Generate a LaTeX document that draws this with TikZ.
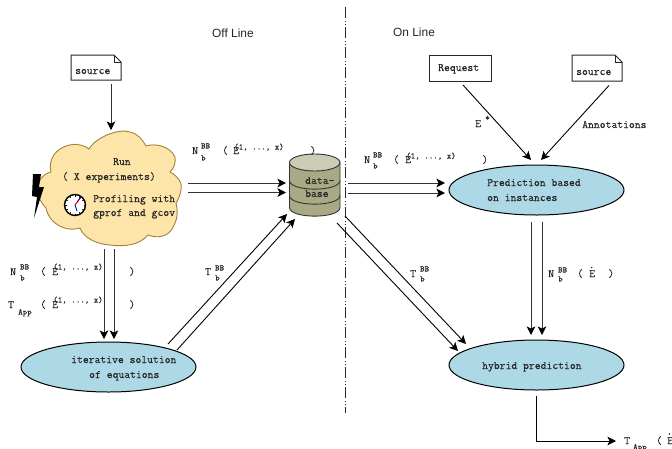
\documentclass[tikz,border=0pt]{standalone}
\usepackage{fontspec}
\setmainfont{Liberation Sans}
\setmonofont[FakeBold=0.08]{Latin Modern Mono}
\usetikzlibrary{arrows.meta,shapes.geometric}
\definecolor{ink}{HTML}{262626}
\definecolor{cloudfill}{HTML}{FDE5A9}
\definecolor{cloudline}{HTML}{A5803A}
\definecolor{ovalfill}{HTML}{ADD8E6}
\definecolor{dbbody}{HTML}{A9A985}
\definecolor{dbtop}{HTML}{CCCCB6}
\tikzset{
  lab/.style={anchor=base west,inner sep=0pt,yshift=-3pt,text=ink,font=\fontsize{11.35}{12}\selectfont\ttfamily},
  sml/.style={anchor=base west,inner sep=0pt,yshift=-2.5pt,text=ink,font=\fontsize{8.6}{9}\selectfont\ttfamily},
  ttl/.style={anchor=base west,inner sep=0pt,yshift=-4pt,text=ink,font=\fontsize{11.9}{13}\selectfont},
  oval/.style={ellipse,draw=black,line width=1pt,fill=ovalfill,minimum width=175pt,minimum height=50pt,inner sep=0pt},
  holder/.style={inner sep=0pt,minimum width=#1},
  rbox/.style={draw=ink,line width=1pt,fill=white,inner sep=0pt,minimum width=62pt,minimum height=26pt},
  arr/.style={line width=1pt,draw=black!80,-{Stealth[length=8.5pt,width=8.5pt,inset=2pt,color=black]}},
  plain/.style={line width=.9pt,draw=black,-{Stealth[length=8.5pt,width=8.5pt,inset=2pt]}}
}
\newcommand\lb[4]{\node[lab] (#1) at (#2,#3) {#4};}
\newcommand\sm[4]{\node[sml] (#1) at (#2,#3) {#4};}
\newcommand\docbox[5]{% name, l, t, r, b
  \node[holder=0pt] (#1) at ({(#2+#4)/2},{(#3+#5)/2}) {};
  \draw[draw=ink,line width=1pt,fill=white] (#2,#3) -- (#4-7,#3) -- (#4,#3+7) -- (#4,#5) -- (#2,#5) -- cycle;
  \draw[draw=ink,line width=.8pt] (#4-7,#3) -- (#4-7,#3+7) -- (#4,#3+7);
}
\begin{document}
\begin{tikzpicture}[x=1pt,y=-1pt]
\useasboundingbox (0,0) rectangle (672,448);
% divider
\coordinate (divt) at (345,7);
\coordinate (divb) at (345,413);
\draw[draw=ink,line width=.9pt,dash pattern=on 11pt off 3pt on 1pt off 2pt on 1pt off 2pt] (divt) -- (divb);
% titles
\node[ttl] (offl) at (212,33) {Off Line};
\node[ttl] (onl) at (393,32) {On Line};
% cloud
\draw[draw=cloudline,line width=.9pt,fill=cloudfill]
  (89,149) .. controls (95,138) and (118,128) .. (130,132)
  .. controls (138,134) and (142,139) .. (146,146)
  .. controls (155,143) and (170,146) .. (175,157)
  .. controls (176,163) and (174,168) .. (170,172)
  .. controls (178,176) and (183,184) .. (181,190)
  .. controls (180,196) and (178,200) .. (176,203)
  .. controls (178,212) and (178,219) .. (172,229)
  .. controls (166,238) and (156,238) .. (148,235)
  .. controls (140,245) and (124,247) .. (110,245)
  .. controls (96,244) and (84,238) .. (80,228)
  .. controls (68,232) and (50,226) .. (46,208)
  .. controls (38,200) and (35,188) .. (40,180)
  .. controls (43,175) and (47,173) .. (51,172)
  .. controls (48,160) and (55,148) .. (70,145)
  .. controls (78,143) and (85,146) .. (89,149) -- cycle;
\node[holder=0pt] (cloud) at (109,188) {};
% lightning bolt
\fill[black] (33,174) -- (41,174) -- (39,187) -- (44,187) -- (34,218) -- (37,197) -- (32,196) -- cycle;
% clock
\node[circle,draw=black,line width=1.4pt,fill=white,minimum size=21pt,inner sep=0pt] (clock) at (75,205) {};
\foreach \a in {0,30,...,330}{\draw[black,line width=.8pt] (clock.center) ++(\a:8.5) -- ++(\a:2);}
\draw[red,line width=1pt] (clock.center) -- ++(6,-8);
\draw[blue,line width=.9pt] (clock.center) -- ++(2,6);
\draw[blue,line width=.7pt] (clock.center) ++(2,-3) -- ++(4,-5);
% cloud text
\lb{trun}{113}{162}{Run}
\lb{tx}{62}{177}{( X experiments)}
\lb{tp}{93}{199}{Profiling with}
\lb{tg}{93}{213}{gprof and gcov}
% source + request
\docbox{srcl}{71}{55}{121}{80}
\lb{tsrcl}{75}{71}{source}
\node[rbox] (req) at (460,68) {};
\lb{treq}{438}{68}{Request}
\docbox{srcr}{572}{55}{622}{81}
\lb{tsrcr}{576}{72}{source}
% database
\filldraw[draw=black!80,line width=.9pt,fill=dbbody] (289.5,162.5) -- (289.5,207.5) .. controls (289.5,219) and (340,219) .. (340,207.5) -- (340,162.5) -- cycle;
\draw[draw=black!80,line width=.9pt] (289.5,180.5) .. controls (289.5,192) and (340,192) .. (340,180.5);
\draw[draw=black!80,line width=.9pt] (289.5,195.5) .. controls (289.5,207) and (340,207) .. (340,195.5);
\node[ellipse,draw=black!80,line width=.9pt,fill=dbtop,minimum width=50.5pt,minimum height=17pt,inner sep=0pt] (dbt) at (314.75,162.5) {};
\node[holder=0pt] (db) at (315,185) {};
\lb{td}{305}{181}{data-}
\lb{tb}{305}{194}{base}
% ovals
\node[oval] (pred) at (536.5,190) {};
\lb{tp1}{487}{183}{Prediction based}
\lb{tp2}{487}{198}{on instances}
\node[oval] (hyb) at (536.5,365) {};
\lb{th}{482}{366}{hybrid prediction}
\node[oval] (iter) at (108.5,367) {};
\lb{ti1}{71}{360}{iterative solution}
\lb{ti2}{89}{375}{of equations}
% connectors
\draw[arr] ([shift={(15,16.5)}]srcl.center) -- ([shift={(2,-58)}]cloud.center);
\draw[arr] ([shift={(79,-5)}]cloud.center) -- ([shift={(-29,-2)}]db.center);
\draw[arr] ([shift={(79,4.5)}]cloud.center) -- ([shift={(-29,7.5)}]db.center);
\draw[arr] ([shift={(33,-2)}]db.center) -- ([shift={(-91.5,-7)}]pred.center);
\draw[arr] ([shift={(33,8)}]db.center) -- ([shift={(-91.5,3)}]pred.center);
\draw[arr] ([shift={(-5,61)}]cloud.center) -- ([shift={(-4.5,-28)}]iter.center);
\draw[arr] ([shift={(5,61)}]cloud.center) -- ([shift={(5.5,-28)}]iter.center);
\draw[plain] ([shift={(59.5,-23)}]iter.center) -- ([shift={(-28,29)}]db.center);
\draw[plain] ([shift={(68.5,-17)}]iter.center) -- ([shift={(-20,34)}]db.center);
\draw[plain] ([shift={(30,31)}]db.center) -- ([shift={(-70.5,-21)}]hyb.center);
\draw[plain] ([shift={(22,38)}]db.center) -- ([shift={(-78.5,-14)}]hyb.center);
\draw[arr] ([shift={(-5.5,32)}]pred.center) -- ([shift={(-5.5,-30)}]hyb.center);
\draw[arr] ([shift={(5.5,32)}]pred.center) -- ([shift={(5.5,-30)}]hyb.center);
\draw[plain] ([shift={(3,17)}]req.center) -- ([shift={(-5.5,-30)}]pred.center);
\draw[plain] ([shift={(12,17.5)}]srcr.center) -- ([shift={(4.5,-30)}]pred.center);
\coordinate (outk) at (536,441);
\coordinate (outt) at (616,441);
\draw[plain] ([shift={(-0.5,31)}]hyb.center) -- (outk) -- (outt);
% labels
\lb{n1}{192}{151}{N}\sm{n1a}{201}{146}{BB}\sm{n1b}{201}{158}{b}\lb{n1c}{222}{151}{(}\lb{n1d}{233}{151}{E}\sm{n1e}{234}{147}{(1, ..., x)}\lb{n1f}{310}{151}{)}
\lb{n2}{364}{160}{N}\sm{n2a}{373}{155}{BB}\sm{n2b}{373}{166}{b}\lb{n2c}{393}{160}{(}\lb{n2d}{405}{160}{E}\sm{n2e}{406}{156}{(1, ..., x)}\lb{n2f}{482}{160}{)}
\lb{n3}{10}{272}{N}\sm{n3a}{20}{267}{BB}\sm{n3b}{20}{278}{b}\lb{n3c}{40}{272}{(}\lb{n3d}{52}{272}{E}\sm{n3e}{53}{267}{(1, ..., x)}\lb{n3f}{129}{272}{)}
\lb{n4}{8}{305}{T}\sm{n4a}{18}{312}{App}\lb{n4c}{40}{305}{(}\lb{n4d}{52}{305}{E}\sm{n4e}{53}{300}{(1, ..., x)}\lb{n4f}{129}{305}{)}
\lb{n5}{205}{272}{T}\sm{n5a}{215}{268}{BB}\sm{n5b}{215}{278}{b}
\lb{n6}{410}{274}{T}\sm{n6a}{420}{269}{BB}\sm{n6b}{420}{279}{b}
\lb{n7}{548}{274}{N}\sm{n7a}{558}{270}{BB}\sm{n7b}{558}{279}{b}\lb{n7c}{577}{274}{(}\lb{n7d}{589}{274}{E}\lb{n7f}{608}{274}{)}
\fill[ink] (591.7,267.5) circle (.8);
\lb{n8}{475}{124}{E}\sm{n8a}{485}{118}{*}
\lb{n9}{582}{125}{Annotations}
\lb{n10}{624}{441}{T}\sm{n10a}{633}{447}{App}\lb{n10c}{656}{441}{(}\lb{n10d}{667}{441}{E}
\fill[ink] (669.5,434) circle (.8);
\end{tikzpicture}
\end{document}
